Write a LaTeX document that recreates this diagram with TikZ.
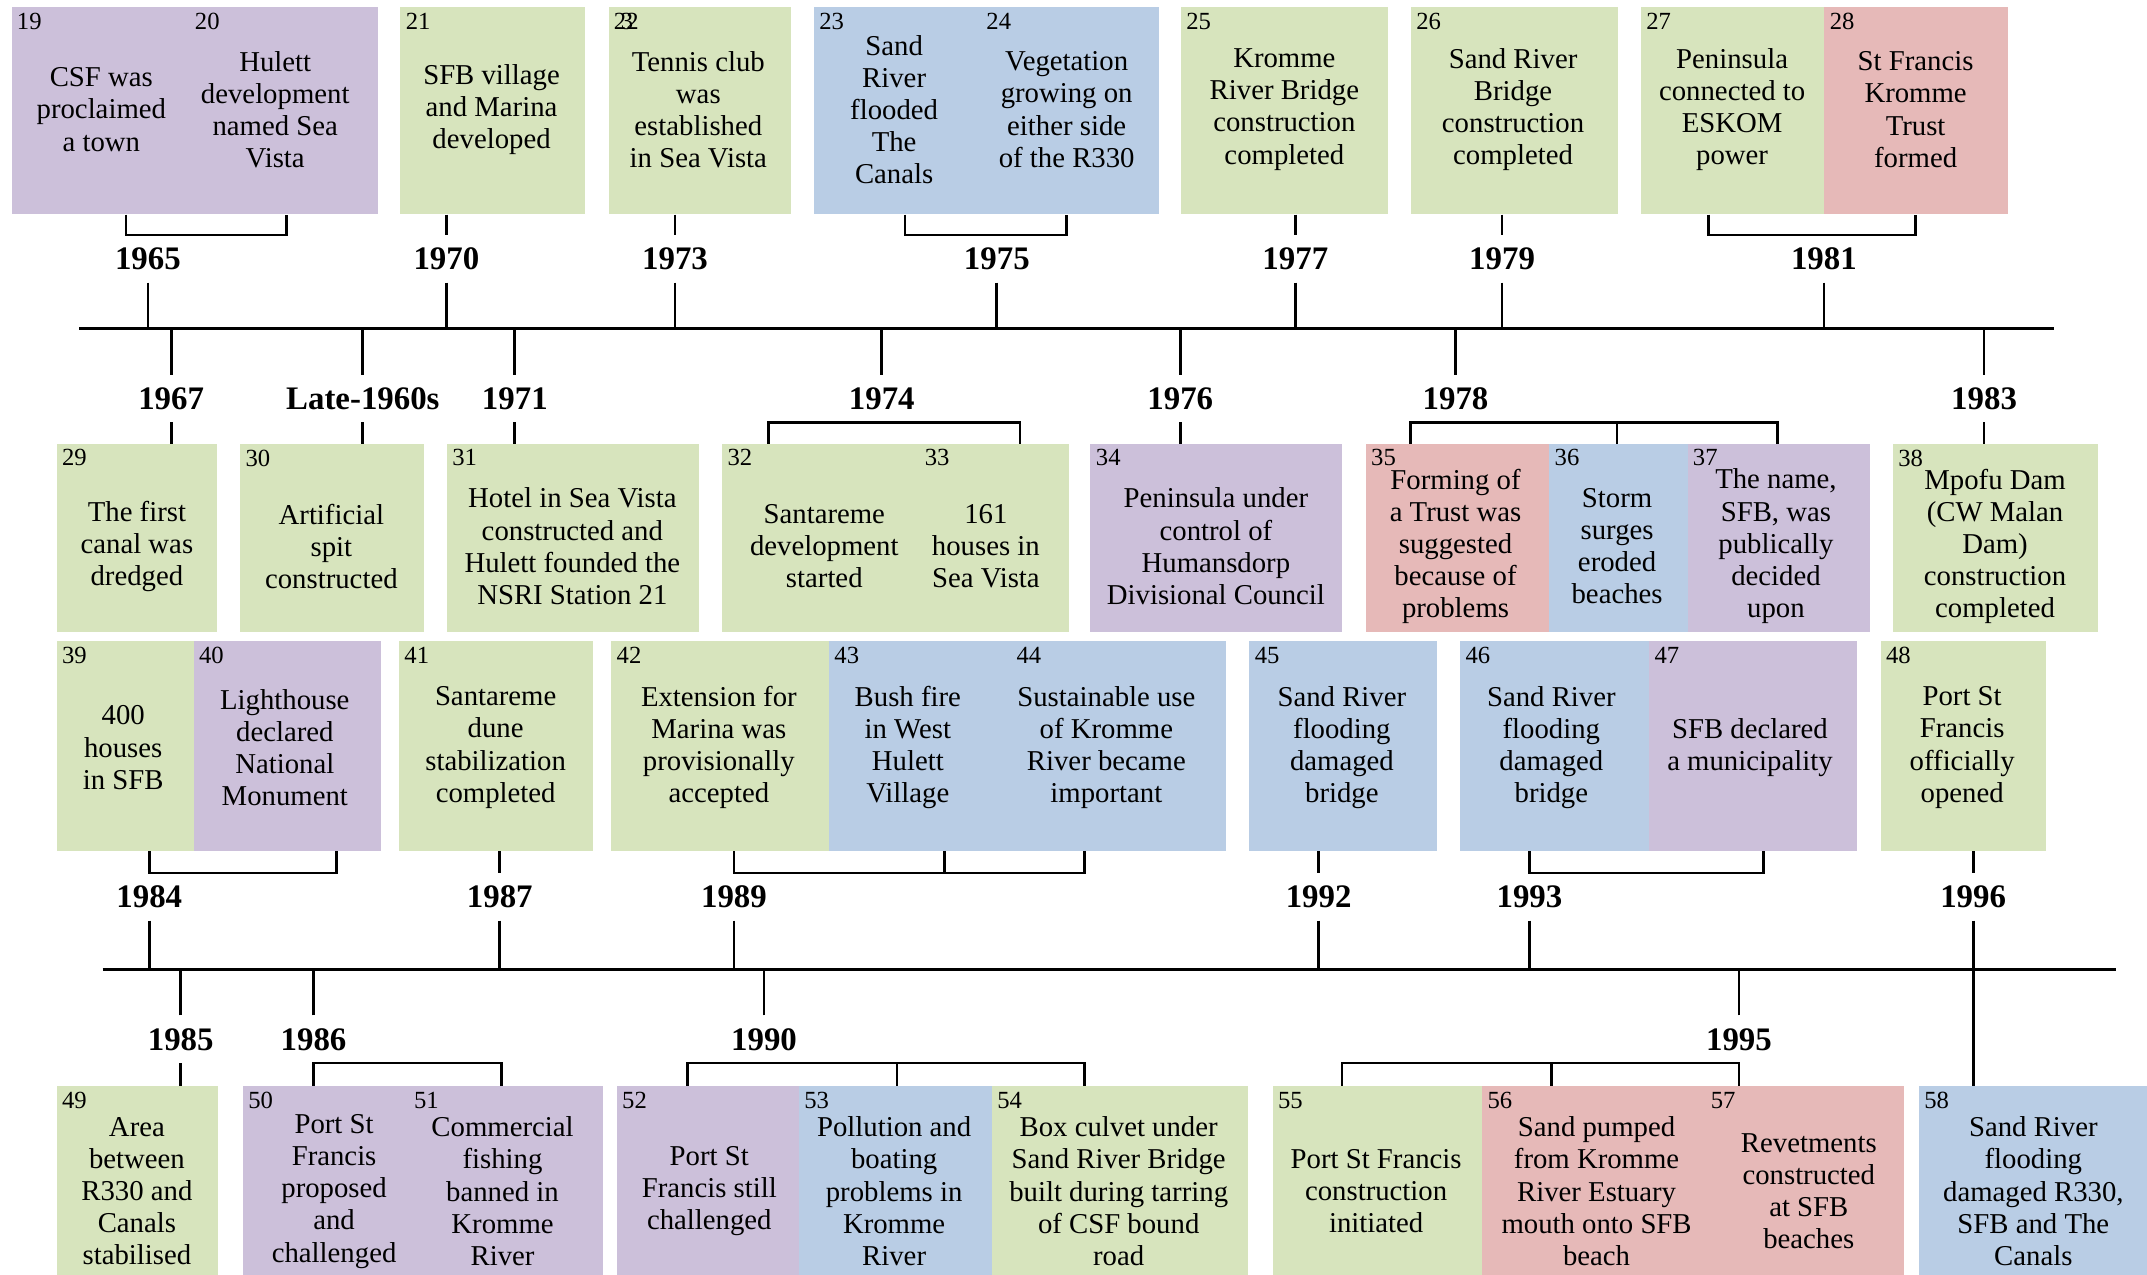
\documentclass[tikz,border=0pt]{standalone}
\usepackage{fontspec}
\setmainfont{Liberation Serif}
\definecolor{lil}{HTML}{CCC0DA}
\definecolor{grn}{HTML}{D7E4BD}
\definecolor{blu}{HTML}{B9CDE5}
\definecolor{pnk}{HTML}{E6B9B8}
\tikzset{
  evbox/.style={draw=none,inner sep=0pt,anchor=north west},
  evtxt/.style={align=center,inner sep=0pt,font=\fontsize{10.5}{11.75}\selectfont},
  evnum/.style={anchor=north west,inner sep=2pt,font=\fontsize{9}{9}\selectfont},
  yr/.style={inner sep=0pt,minimum height=17pt,font=\bfseries\fontsize{12}{12}\selectfont},
  axisline/.style={line width=1.3pt},
  link/.style={line width=1pt}
}
\begin{document}
\begin{tikzpicture}[x=0.5pt,y=-0.5pt]
    \path[use as bounding box,clip] (0,0) rectangle (1568,931);
    \coordinate (ta1) at (58,240); \coordinate (ta2) at (1500,240);%上面的时间轴
    \coordinate (ba1) at (75,708); \coordinate (ba2) at (1545,708);%下面的时间轴
    \draw[axisline] (ta1) -- (ta2);
    \draw[axisline] (ba1) -- (ba2);
    % 第一行
    \foreach \n/\col/\xa/\xb/\tx/\lbl in {
        19/lil/8/138/74/{CSF was\\proclaimed\\a town},
        20/lil/138/276/201/{Hulett\\development\\named Sea\\Vista},
        21/grn/292/427/359/{SFB village\\and Marina\\developed},
        23/blu/594/716/653/{Sand\\River\\flooded\\The\\Canals},
        24/blu/716/846/779/{Vegetation\\growing on\\either side\\of the R330},
        25/grn/862/1013/938/{Kromme\\River Bridge\\construction\\completed},
        26/grn/1030/1181/1105/{Sand River\\Bridge\\construction\\completed},
        27/grn/1198/1332/1265/{Peninsula\\connected to\\ESKOM\\power},
        28/pnk/1332/1466/1399/{St Francis\\Kromme\\Trust\\formed}}{
        \node[evbox,fill=\col,minimum width={(\xb-\xa)*0.5pt},minimum height=75.5pt] (b\n) at (\xa,5) {};
        \node[evnum] (n\n) at (b\n.north west) {\n};
        \node[evtxt] (t\n) at (\tx,80) {\lbl};
    }
    \node[evbox,fill=grn,minimum width=66.5pt,minimum height=75.5pt] (b22) at (444,5) {};
    \node[evnum] (n22) at (b22.north west) {2\kern-2pt3\kern-2.5pt2};%编号重叠
    \node[evtxt] (t22) at (510,80) {Tennis club\\was\\established\\in Sea Vista};
    % 第二行
    \foreach \n/\col/\xa/\xb/\tx/\lbl in {
        29/grn/41/158/100/{The first\\canal was\\dredged},
        30/grn/175/309/242/{Artificial\\spit\\constructed},
        31/grn/326/510/418/{Hotel in Sea Vista\\constructed and\\Hulett founded the\\NSRI Station 21},
        32/grn/527/671/602/{Santareme\\development\\started},
        33/grn/671/780/720/{161\\houses in\\Sea Vista},
        34/lil/796/980/888/{Peninsula under\\control of\\Humansdorp\\Divisional Council},
        35/pnk/997/1131/1063/{Forming of\\a Trust was\\suggested\\because of\\problems},
        36/blu/1131/1232/1181/{Storm\\surges\\eroded\\beaches},
        37/lil/1232/1365/1297/{The name,\\SFB, was\\publically\\decided\\upon},
        38/grn/1382/1532/1457/{Mpofu Dam\\(CW Malan\\Dam)\\construction\\completed}}{
        \node[evbox,fill=\col,minimum width={(\xb-\xa)*0.5pt},minimum height=68.5pt] (b\n) at (\xa,324) {};
        \node[evnum] (n\n) at (b\n.north west) {\n};
        \node[evtxt] (t\n) at (\tx,399) {\lbl};
    }
    % 第三行
    \foreach \n/\col/\xa/\xb/\tx/\lbl in {
        39/grn/41/141/90/{400\\houses\\in SFB},
        40/lil/141/278/208/{Lighthouse\\declared\\National\\Monument},
        41/grn/291/433/362/{Santareme\\dune\\stabilization\\completed},
        42/grn/446/605/525/{Extension for\\Marina was\\provisionally\\accepted},
        43/blu/605/738/663/{Bush fire\\in West\\Hulett\\Village},
        44/blu/738/895/808/{Sustainable use\\of Kromme\\River became\\important},
        45/blu/912/1049/980/{Sand River\\flooding\\damaged\\bridge},
        46/blu/1066/1204/1133/{Sand River\\flooding\\damaged\\bridge},
        47/lil/1204/1356/1278/{SFB declared\\a municipality},
        48/grn/1373/1494/1433/{Port St\\Francis\\officially\\opened}}{
        \node[evbox,fill=\col,minimum width={(\xb-\xa)*0.5pt},minimum height=76.5pt] (b\n) at (\xa,468) {};
        \node[evnum] (n\n) at (b\n.north west) {\n};
        \node[evtxt] (t\n) at (\tx,546) {\lbl};
    }
    % 第四行
    \foreach \n/\col/\xa/\xb/\tx/\lbl in {
        49/grn/41/159/100/{Area\\between\\R330 and\\Canals\\stabilised},
        50/lil/177/298/244/{Port St\\Francis\\proposed\\and\\challenged},
        51/lil/298/440/367/{Commercial\\fishing\\banned in\\Kromme\\River},
        52/lil/450/583/518/{Port St\\Francis still\\challenged},
        53/blu/583/724/653/{Pollution and\\boating\\problems in\\Kromme\\River},
        54/grn/724/911/817/{Box culvet under\\Sand River Bridge\\built during tarring\\of CSF bound\\road},
        55/grn/929/1082/1005/{Port St Francis\\construction\\initiated},
        56/pnk/1082/1245/1166/{Sand pumped\\from Kromme\\River Estuary\\mouth onto SFB\\beach},
        57/pnk/1245/1390/1321/{Revetments\\constructed\\at SFB\\beaches},
        58/blu/1401/1568/1485/{Sand River\\flooding\\damaged R330,\\SFB and The\\Canals}}{
        \node[evbox,fill=\col,minimum width={(\xb-\xa)*0.5pt},minimum height=75pt] (b\n) at (\xa,793) {};
        \node[evnum] (n\n) at (b\n.north west) {\n};
        \node[evtxt] (t\n) at (\tx,870) {\lbl};
    }
    % 年份
    \node[yr] (y1965) at (108,189) {1965};
    \node[yr] (y1970) at (326,189) {1970};
    \node[yr] (y1973) at (493,189) {1973};
    \node[yr] (y1975) at (728,189) {1975};
    \node[yr] (y1977) at (946,189) {1977};
    \node[yr] (y1979) at (1097,189) {1979};
    \node[yr] (y1981) at (1332,189) {1981};
    \node[yr] (y1967) at (125,291) {1967};
    \node[yr] (y1960s) at (265,291) {Late-1960s};
    \node[yr] (y1971) at (376,291) {1971};
    \node[yr] (y1974) at (644,291) {1974};
    \node[yr] (y1976) at (862,291) {1976};
    \node[yr] (y1978) at (1063,291) {1978};
    \node[yr] (y1983) at (1449,291) {1983};
    \node[yr] (y1984) at (109,655) {1984};
    \node[yr] (y1987) at (365,655) {1987};
    \node[yr] (y1989) at (536,655) {1989};
    \node[yr] (y1992) at (963,655) {1992};
    \node[yr] (y1993) at (1117,655) {1993};
    \node[yr] (y1996) at (1441,655) {1996};
    \node[yr] (y1985) at (132,759) {1985};
    \node[yr] (y1986) at (229,759) {1986};
    \node[yr] (y1990) at (558,759) {1990};
    \node[yr] (y1995) at (1270,759) {1995};
    % 上面时间轴的刻度
    \foreach \y in {1965,1970,1973,1975,1977,1979,1981}
        \draw[link] (y\y.south) -- (y\y.south |- ta1);
    \foreach \y in {1967,1960s,1971,1974,1976,1978,1983}
        \draw[link] (y\y.north) -- (y\y.north |- ta1);
    % 下面时间轴的刻度
    \foreach \y in {1984,1987,1989,1992,1993}
        \draw[link] (y\y.south) -- (y\y.south |- ba1);
    \foreach \y in {1985,1986,1990,1995}
        \draw[link] (y\y.north) -- (y\y.north |- ba1);
    \draw[link] (y1996.south) -- (y1996.south |- b58.north);%穿过时间轴
    % 方框与年份的连线
    \draw[link] (92,0 |- b19.south) -- (92,0 |- y1965.north) -- (209,0 |- y1965.north) -- (209,0 |- b20.south);
    \draw[link] (y1970.north |- b21.south) -- (y1970.north);
    \draw[link] (y1973.north |- b22.south) -- (y1973.north);
    \draw[link] (661,0 |- b23.south) -- (661,0 |- y1975.north) -- (779,0 |- y1975.north) -- (779,0 |- b24.south);
    \draw[link] (y1977.north |- b25.south) -- (y1977.north);
    \draw[link] (y1979.north |- b26.south) -- (y1979.north);
    \draw[link] (1248,0 |- b27.south) -- (1248,0 |- y1981.north) -- (1399,0 |- y1981.north) -- (1399,0 |- b28.south);
    \draw[link] (y1967.south) -- (y1967.south |- b29.north);
    \draw[link] (y1960s.south) -- (y1960s.south |- b30.north);
    \draw[link] (y1971.south) -- (y1971.south |- b31.north);
    \draw[link] (561,0 |- b32.north) -- (561,0 |- y1974.south) -- (745,0 |- y1974.south) -- (745,0 |- b33.north);
    \draw[link] (y1976.south) -- (y1976.south |- b34.north);
    \draw[link] (1030,0 |- b35.north) -- (1030,0 |- y1978.south) -- (1298,0 |- y1978.south) -- (1298,0 |- b37.north);
    \draw[link] (1181,0 |- y1978.south) -- (1181,0 |- b36.north);
    \draw[link] (y1983.south) -- (y1983.south |- b38.north);
    \draw[link] (109,0 |- b39.south) -- (109,0 |- y1984.north) -- (246,0 |- y1984.north) -- (246,0 |- b40.south);
    \draw[link] (y1987.north |- b41.south) -- (y1987.north);
    \draw[link] (536,0 |- b42.south) -- (536,0 |- y1989.north) -- (792,0 |- y1989.north) -- (792,0 |- b44.south);
    \draw[link] (690,0 |- y1989.north) -- (690,0 |- b43.south);
    \draw[link] (y1992.north |- b45.south) -- (y1992.north);
    \draw[link] (1117,0 |- b46.south) -- (1117,0 |- y1993.north) -- (1288,0 |- y1993.north) -- (1288,0 |- b47.south);
    \draw[link] (y1996.north |- b48.south) -- (y1996.north);
    \draw[link] (y1985.south) -- (y1985.south |- b49.north);
    \draw[link] (229,0 |- b50.north) -- (229,0 |- y1986.south) -- (366,0 |- y1986.south) -- (366,0 |- b51.north);
    \draw[link] (502,0 |- b52.north) -- (502,0 |- y1990.south) -- (792,0 |- y1990.south) -- (792,0 |- b54.north);
    \draw[link] (655,0 |- y1990.south) -- (655,0 |- b53.north);
    \draw[link] (980,0 |- b55.north) -- (980,0 |- y1995.south) -- (1270,0 |- y1995.south) -- (1270,0 |- b57.north);
    \draw[link] (1133,0 |- y1995.south) -- (1133,0 |- b56.north);
\end{tikzpicture}
\end{document}
